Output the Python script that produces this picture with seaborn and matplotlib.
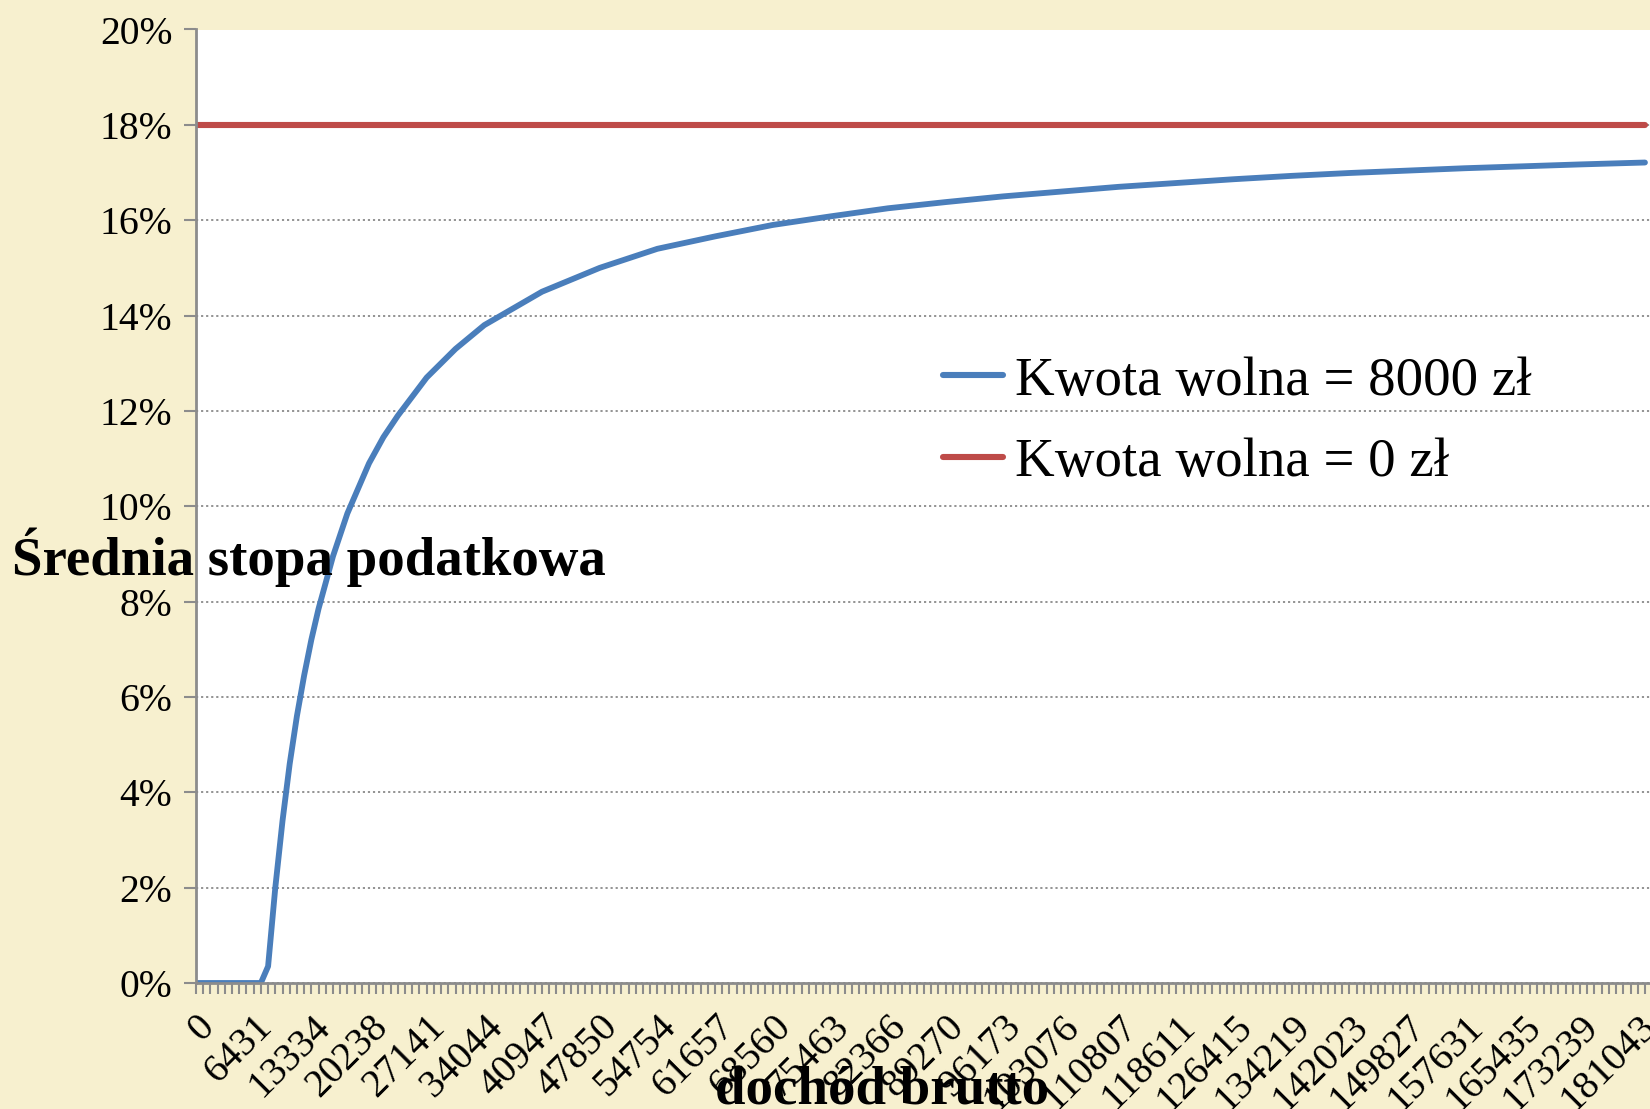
import matplotlib
matplotlib.use("Agg")
import matplotlib.pyplot as plt
import seaborn as sns
import pandas as pd
from matplotlib.lines import Line2D

# ---- data ----
# category axis: one label every 8 categories
income_labels = ["0", "6431", "13334", "20238", "27141", "34044", "40947", "47850",
                 "54754", "61657", "68560", "75463", "82366", "89270", "96173",
                 "103076", "110807", "118611", "126415", "134219", "142023",
                 "149827", "157631", "165435", "173239", "181043"]
label_every = 8
n_categories = 202

# blue series: average tax rate (%) with 8000 zł tax-free amount, at category index
blue_idx = [0, 9, 10, 11, 12, 13, 14, 15, 16, 17, 18, 19, 20, 21, 22, 23, 24, 26,
            28, 30, 32, 34, 36, 38, 40, 44, 48, 52, 56, 60, 64, 68, 72, 76, 80,
            88, 96, 104, 112, 120, 128, 136, 144, 152, 160, 168, 176, 184, 192, 201]
blue_rate = [0.0, 0.0, 0.35, 2.0, 3.4, 4.6, 5.6, 6.45, 7.2, 7.85, 8.4, 8.95, 9.4,
             9.85, 10.2, 10.55, 10.9, 11.45, 11.9, 12.3, 12.7, 13.0, 13.3, 13.55,
             13.8, 14.15, 14.5, 14.75, 15.0, 15.2, 15.4, 15.53, 15.66, 15.78, 15.9,
             16.08, 16.25, 16.38, 16.5, 16.6, 16.7, 16.78, 16.86, 16.93, 16.99,
             17.04, 17.09, 17.13, 17.17, 17.21]
# red series: flat 18 %
red_idx = [0, 201]
red_rate = [18.0, 18.0]

series_names = ["Kwota wolna = 8000 zł", "Kwota wolna = 0 zł"]
y_ticks = [0, 2, 4, 6, 8, 10, 12, 14, 16, 18, 20]

# ---- style ----
sns.set_style("white")
plt.rcParams["font.family"] = ["Liberation Serif", "DejaVu Serif"]
plt.rcParams["text.color"] = "black"
plt.rcParams["xtick.labelcolor"] = "black"
plt.rcParams["ytick.labelcolor"] = "black"

BG = "#F7F0CF"
BLUE = "#4A7EBB"
RED = "#BE4B48"
AX_GRAY = "#8C8C8C"

fig = plt.figure(figsize=(16.5, 11.09), dpi=100, facecolor=BG)
ax = fig.add_axes([196 / 1650, 1 - 983 / 1109, 1 - 196 / 1650, (983 - 29.5) / 1109])
ax.set_facecolor("white")

df_blue = pd.DataFrame({"idx": blue_idx, "rate": blue_rate})
df_red = pd.DataFrame({"idx": red_idx, "rate": red_rate})
sns.lineplot(data=df_red, x="idx", y="rate", ax=ax, color=RED, linewidth=4.4,
             zorder=3, legend=False)
sns.lineplot(data=df_blue, x="idx", y="rate", ax=ax, color=BLUE, linewidth=4.2,
             zorder=4, legend=False)

ax.set_xlim(0, 201.7)
ax.set_ylim(0, 20)

# y axis
ax.set_yticks(y_ticks)
ax.set_yticklabels([f"{v}%" for v in y_ticks], fontsize=28.5, color="black")
ax.yaxis.grid(True, color="#8a8a8a", linestyle=(0, (1.2, 1.6)), linewidth=1.3)
ax.xaxis.grid(False)

# x axis
major = list(range(0, len(income_labels) * label_every, label_every))
ax.set_xticks(major)
ax.set_xticklabels(income_labels, fontsize=28.5, rotation=45, ha="right",
                   va="top", rotation_mode="anchor", color="black")
ax.set_xticks(range(0, n_categories), minor=True)
ax.tick_params(axis="x", which="both", direction="out", length=8, width=1.5,
               color=AX_GRAY, pad=10, bottom=True)
ax.tick_params(axis="y", which="major", direction="out", length=9, width=1.5,
               color=AX_GRAY, pad=8, left=True)

for side in ["top", "right"]:
    ax.spines[side].set_visible(False)
for side in ["left", "bottom"]:
    ax.spines[side].set_color(AX_GRAY)
    ax.spines[side].set_linewidth(2)
    ax.spines[side].set_zorder(5)

ax.set_xlabel("")
ax.set_ylabel("")

# legend
handles = [Line2D([0], [0], color=BLUE, lw=4.4), Line2D([0], [0], color=RED, lw=4.4)]
leg = fig.legend(handles, series_names, loc="center left",
                 bbox_to_anchor=(943 / 1650, 1 - 422 / 1109), frameon=False,
                 fontsize=39.5, handlelength=1.1, handletextpad=0.22,
                 labelspacing=0.56, borderpad=0, borderaxespad=0)
for t in leg.get_texts():
    t.set_color("black")

# axis titles
fig.text(12 / 1650, 1 - 575 / 1109, "Średnia stopa podatkowa", fontsize=39.5,
         fontweight="bold", ha="left", va="baseline", zorder=10, color="black")
fig.text(882 / 1650, 1 - 1104 / 1109, "dochód brutto", fontsize=39.5,
         fontweight="bold", ha="center", va="baseline", zorder=10, color="black")

fig.savefig("out.png", dpi=100, facecolor=BG)
